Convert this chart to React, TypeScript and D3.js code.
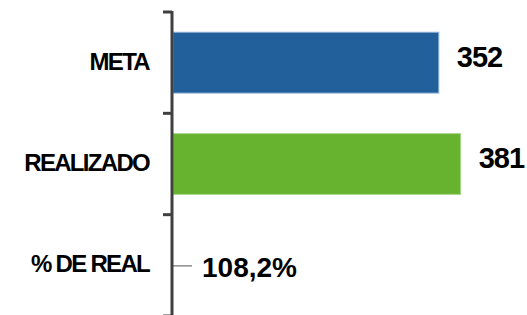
import React from 'react';
import * as d3 from 'd3';

const categories = ['META', 'REALIZADO', '% DE REAL'];
const barValues = [352, 381];
const barLabels = ['352', '381'];
const percentLabel = '108,2%';
const barColors = ['#22609b', '#67b32f'];
const barStrokes = ['#8aaed3', '#a9d68a'];

const width = 527;
const height = 315;
const axisX = 172;

const App = () => {
    const y = d3.scaleBand<string>()
        .domain(categories)
        .range([12, 316])
        .paddingInner(0.4)
        .paddingOuter(0.2);

    const x = d3.scaleLinear()
        .domain([0, 400])
        .range([axisX + 1, 475]);

    const step = y.step();
    const tickYs = categories.map((c) => (y(c) as number) - step * 0.2).concat([316]);
    const font = '"Liberation Sans", Arial, sans-serif';

    return (
        <svg width={width} height={height} style={{ position: 'absolute', left: 0, top: 0 }}>
            {barValues.map((v, i) => {
                const c = categories[i];
                const y0 = y(c) as number;
                return (
                    <g key={c}>
                        <rect
                            x={x(0)}
                            y={y0}
                            width={x(v) - x(0)}
                            height={y.bandwidth()}
                            fill={barColors[i]}
                            stroke={barStrokes[i]}
                            strokeWidth={1}
                        />
                        <text
                            x={x(v) + 18}
                            y={y0 + y.bandwidth() / 2 + 4}
                            fontFamily={font}
                            fontWeight="bold"
                            fontSize={29}
                            letterSpacing={-1}
                            fill="#000"
                        >
                            {barLabels[i]}
                        </text>
                    </g>
                );
            })}

            {/* percent row: leader line + label */}
            <line
                x1={x(0)}
                x2={x(0) + 19}
                y1={(y(categories[2]) as number) + y.bandwidth() / 2 + 0.5}
                y2={(y(categories[2]) as number) + y.bandwidth() / 2 + 0.5}
                stroke="#8c8c8c"
                strokeWidth={1.5}
            />
            <text
                x={x(0) + 29}
                y={(y(categories[2]) as number) + y.bandwidth() / 2 + 12}
                fontFamily={font}
                fontWeight="bold"
                fontSize={28}
                fill="#000"
            >
                {percentLabel}
            </text>

            {/* category axis */}
            <line x1={axisX} x2={axisX} y1={11} y2={height} stroke="#404040" strokeWidth={3} />
            {tickYs.map((ty, i) => (
                <line key={i} x1={axisX - 9} x2={axisX} y1={ty} y2={ty} stroke="#404040" strokeWidth={3} />
            ))}
            {categories.map((c) => (
                <text
                    key={c}
                    x={149}
                    y={(y(c) as number) + y.bandwidth() / 2 + 7}
                    textAnchor="end"
                    fontFamily={font}
                    fontWeight="bold"
                    fontSize={24}
                    letterSpacing={-1.7}
                    fill="#000"
                >
                    {c}
                </text>
            ))}
        </svg>
    );
};

export default App;
